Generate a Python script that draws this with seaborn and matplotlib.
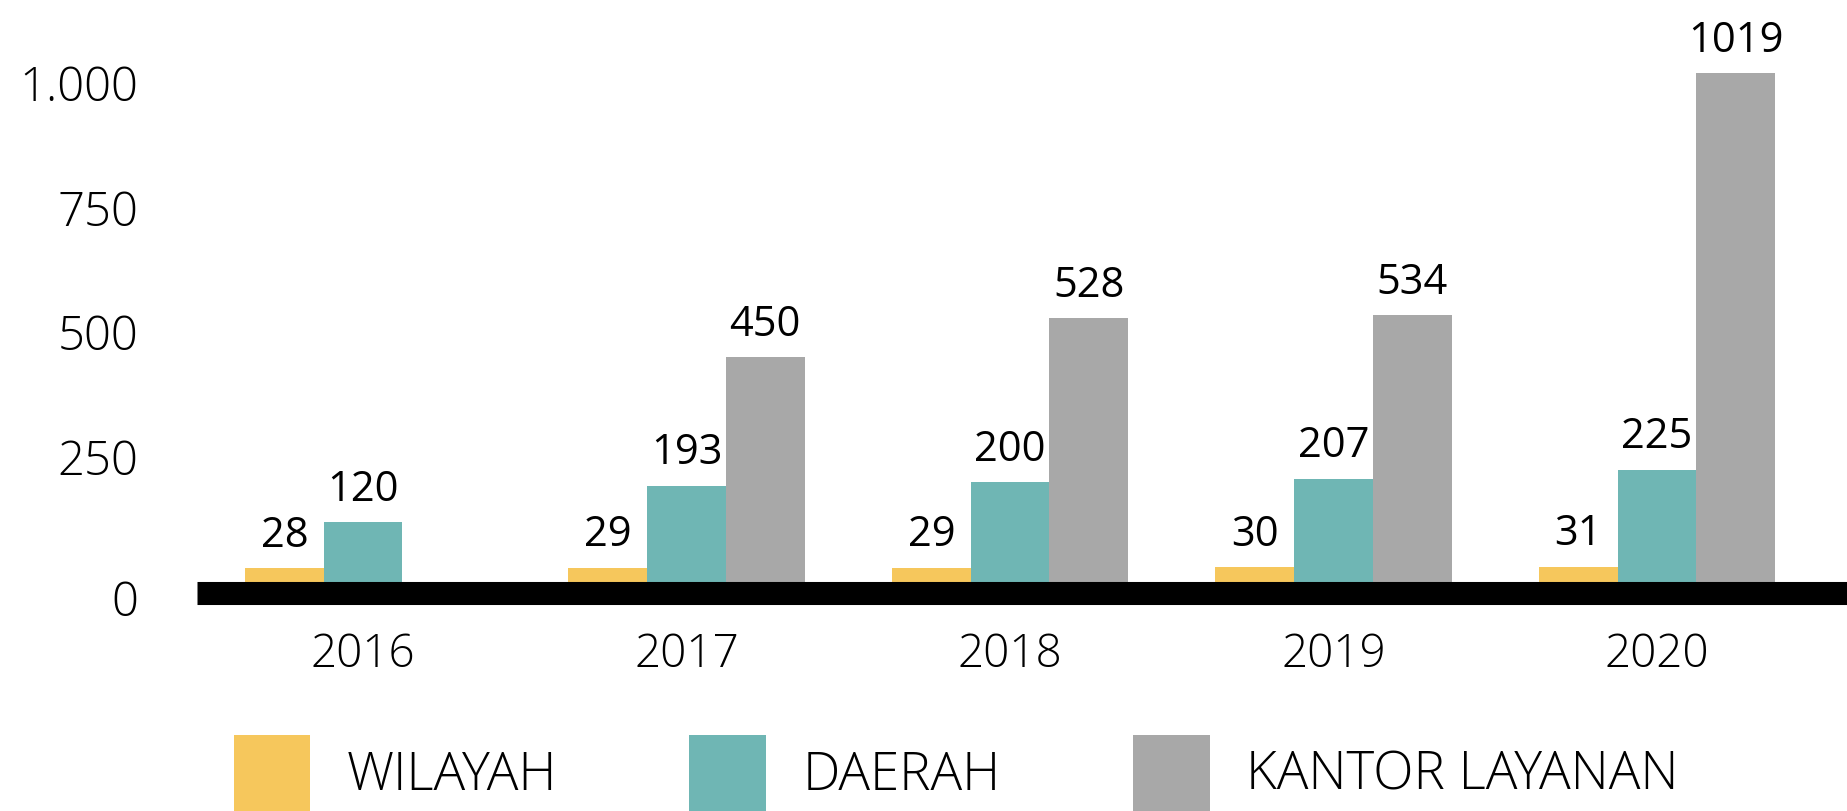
import pandas as pd
import numpy as np
import matplotlib
matplotlib.use("Agg")
import matplotlib.pyplot as plt
import seaborn as sns
from matplotlib.patches import Patch
from matplotlib.transforms import ScaledTranslation

sns.set_theme(style="white")
plt.rcParams["font.family"] = ["Open Sans", "DejaVu Sans"]
plt.rcParams["text.color"] = "black"
plt.rcParams["xtick.color"] = "black"
plt.rcParams["ytick.color"] = "black"

# data
years = ["2016", "2017", "2018", "2019", "2020"]
wilayah = [28, 29, 29, 30, 31]
daerah = [120, 193, 200, 207, 225]
kantor_layanan = [np.nan, 450, 528, 534, 1019]
series_names = ["WILAYAH", "DAERAH", "KANTOR LAYANAN"]
colors = ["#F6C75C", "#6FB6B4", "#A8A8A8"]
ytick_vals = [0, 250, 500, 750, 1000]
ytick_labels = ["0", "250", "500", "750", "1.000"]

df = pd.DataFrame({
    "Tahun": years * 3,
    "Kategori": [s for s in series_names for _ in years],
    "Jumlah": wilayah + daerah + kantor_layanan,
})

fig = plt.figure(figsize=(18.47, 8.11), dpi=100)
ax = fig.add_axes([0.1067, 0.2417, 0.8933, 0.7583])

sns.barplot(
    data=df, x="Tahun", y="Jumlah", hue="Kategori", order=years,
    hue_order=series_names, palette=colors, width=0.73, gap=0,
    saturation=1, ax=ax, legend=False, linewidth=0,
)

ax.set_xlim(-0.513, 4.587)
ax.set_ylim(-66, 1165)

# thick black baseline
ax.axhline(-23, color="black", lw=16.6, solid_capstyle="butt", zorder=1)

# value labels
for cont in ax.containers:
    ax.bar_label(cont, fmt="%d", padding=8, fontsize=30, color="black")

ax.set_yticks(ytick_vals)
ax.set_yticklabels(ytick_labels)
ax.tick_params(axis="y", length=0, pad=42, labelsize=34, labelcolor="black")
ax.tick_params(axis="x", length=0, pad=12, labelsize=33, labelcolor="black")
for lbl in ax.get_xticklabels() + ax.get_yticklabels():
    lbl.set_fontweight("light")
# the "0" label sits level with the black bar
zero_lbl = ax.get_yticklabels()[0]
zero_lbl.set_transform(zero_lbl.get_transform() +
                       ScaledTranslation(0, -0.16, fig.dpi_scale_trans))

ax.set_xlabel("")
ax.set_ylabel("")
sns.despine(ax=ax, left=True, bottom=True)

handles = [Patch(facecolor=c, edgecolor="none") for c in colors]
leg = fig.legend(
    handles, series_names, loc="lower left", bbox_to_anchor=(0.1265, 0.0),
    ncol=3, frameon=False, handlelength=1.45, handleheight=1.85,
    handletextpad=0.7, columnspacing=2.5, borderpad=0, borderaxespad=0,
    prop={"family": ["Open Sans", "DejaVu Sans"], "weight": "light", "size": 38},
)
for t in leg.get_texts():
    t.set_color("black")

fig.savefig("out.png", dpi=100)
